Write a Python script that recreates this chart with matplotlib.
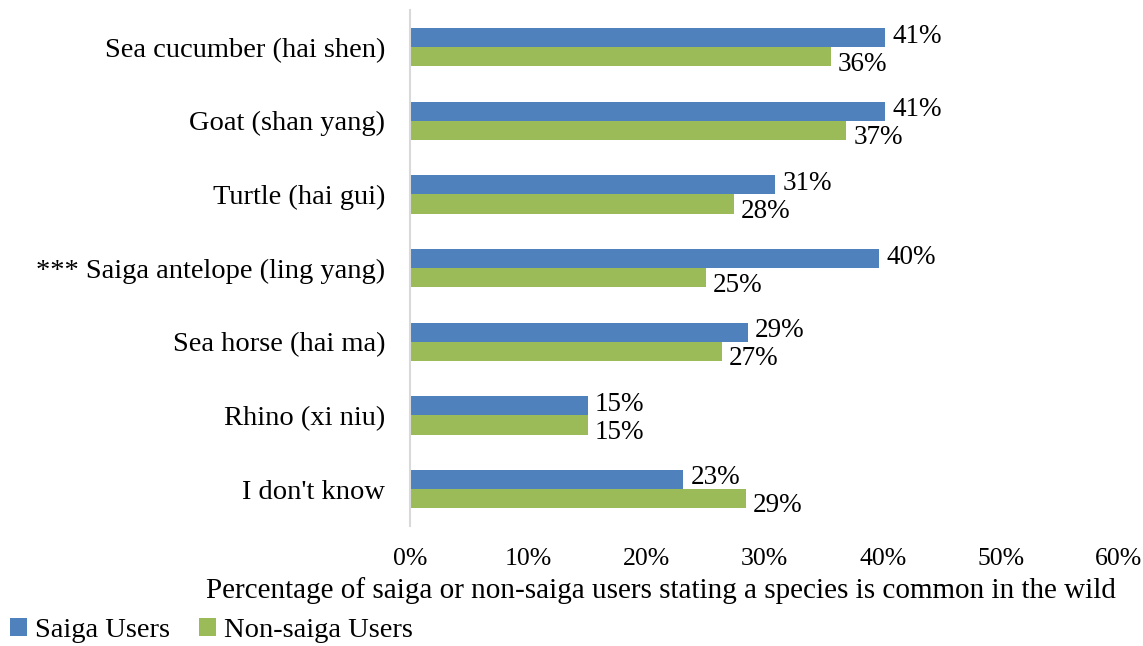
import numpy as np
import matplotlib.pyplot as plt

plt.rcParams['font.family'] = ['Liberation Serif', 'DejaVu Serif']

# Data (top to bottom as shown)
categories = ["Sea cucumber (hai shen)", "Goat (shan yang)", "Turtle (hai gui)",
              "*** Saiga antelope (ling yang)", "Sea horse (hai ma)", "Rhino (xi niu)",
              "I don't know"]
saiga = [40.2, 40.2, 30.9, 39.7, 28.6, 15.0, 23.1]
non_saiga = [35.6, 36.9, 27.4, 25.0, 26.4, 15.0, 28.4]
saiga_labels = ["41%", "41%", "31%", "40%", "29%", "15%", "23%"]
non_saiga_labels = ["36%", "37%", "28%", "25%", "27%", "15%", "29%"]

blue = "#4F81BD"
green = "#9BBB59"

fig = plt.figure(figsize=(11.43, 6.46), dpi=100)
ax = fig.add_axes([0.359, 0.186, 0.62, 0.798])

y = np.arange(len(categories))
h = 0.26
ax.barh(y - h / 2, saiga, height=h, color=blue, label="Saiga Users")
ax.barh(y + h / 2, non_saiga, height=h, color=green, label="Non-saiga Users")

for yi, v, lab in zip(y, saiga, saiga_labels):
    ax.text(v + 0.6, yi - h / 2 - 0.02, lab, va="center", ha="left", fontsize=19.5)
for yi, v, lab in zip(y, non_saiga, non_saiga_labels):
    ax.text(v + 0.6, yi + h / 2 + 0.1, lab, va="center", ha="left", fontsize=19.5)

ax.set_ylim(len(categories) - 0.5, -0.5)
ax.set_xlim(0, 60)
ax.set_yticks(y)
ax.set_yticklabels(categories, fontsize=20.5)
ax.set_xticks(np.arange(0, 61, 10))
ax.set_xticklabels([f"{t}%" for t in range(0, 61, 10)], fontsize=18.5)
ax.tick_params(axis="both", length=0)
ax.tick_params(axis="x", pad=16)
ax.tick_params(axis="y", pad=18)

for s in ["top", "right", "bottom"]:
    ax.spines[s].set_visible(False)
ax.spines["left"].set_color("#D9D9D9")
ax.spines["left"].set_linewidth(1.5)

ax.set_xlabel("Percentage of saiga or non-saiga users stating a species is common in the wild",
              fontsize=21)
ax.xaxis.set_label_coords(0.353, -0.1)

fig.legend(loc="lower left", bbox_to_anchor=(0.006, 0.0), ncol=2, frameon=False,
           fontsize=20.5, handlelength=0.6, handleheight=0.6, handletextpad=0.3,
           columnspacing=1.0, borderaxespad=0.0, borderpad=0.1)

fig.savefig("out.png", dpi=100)
